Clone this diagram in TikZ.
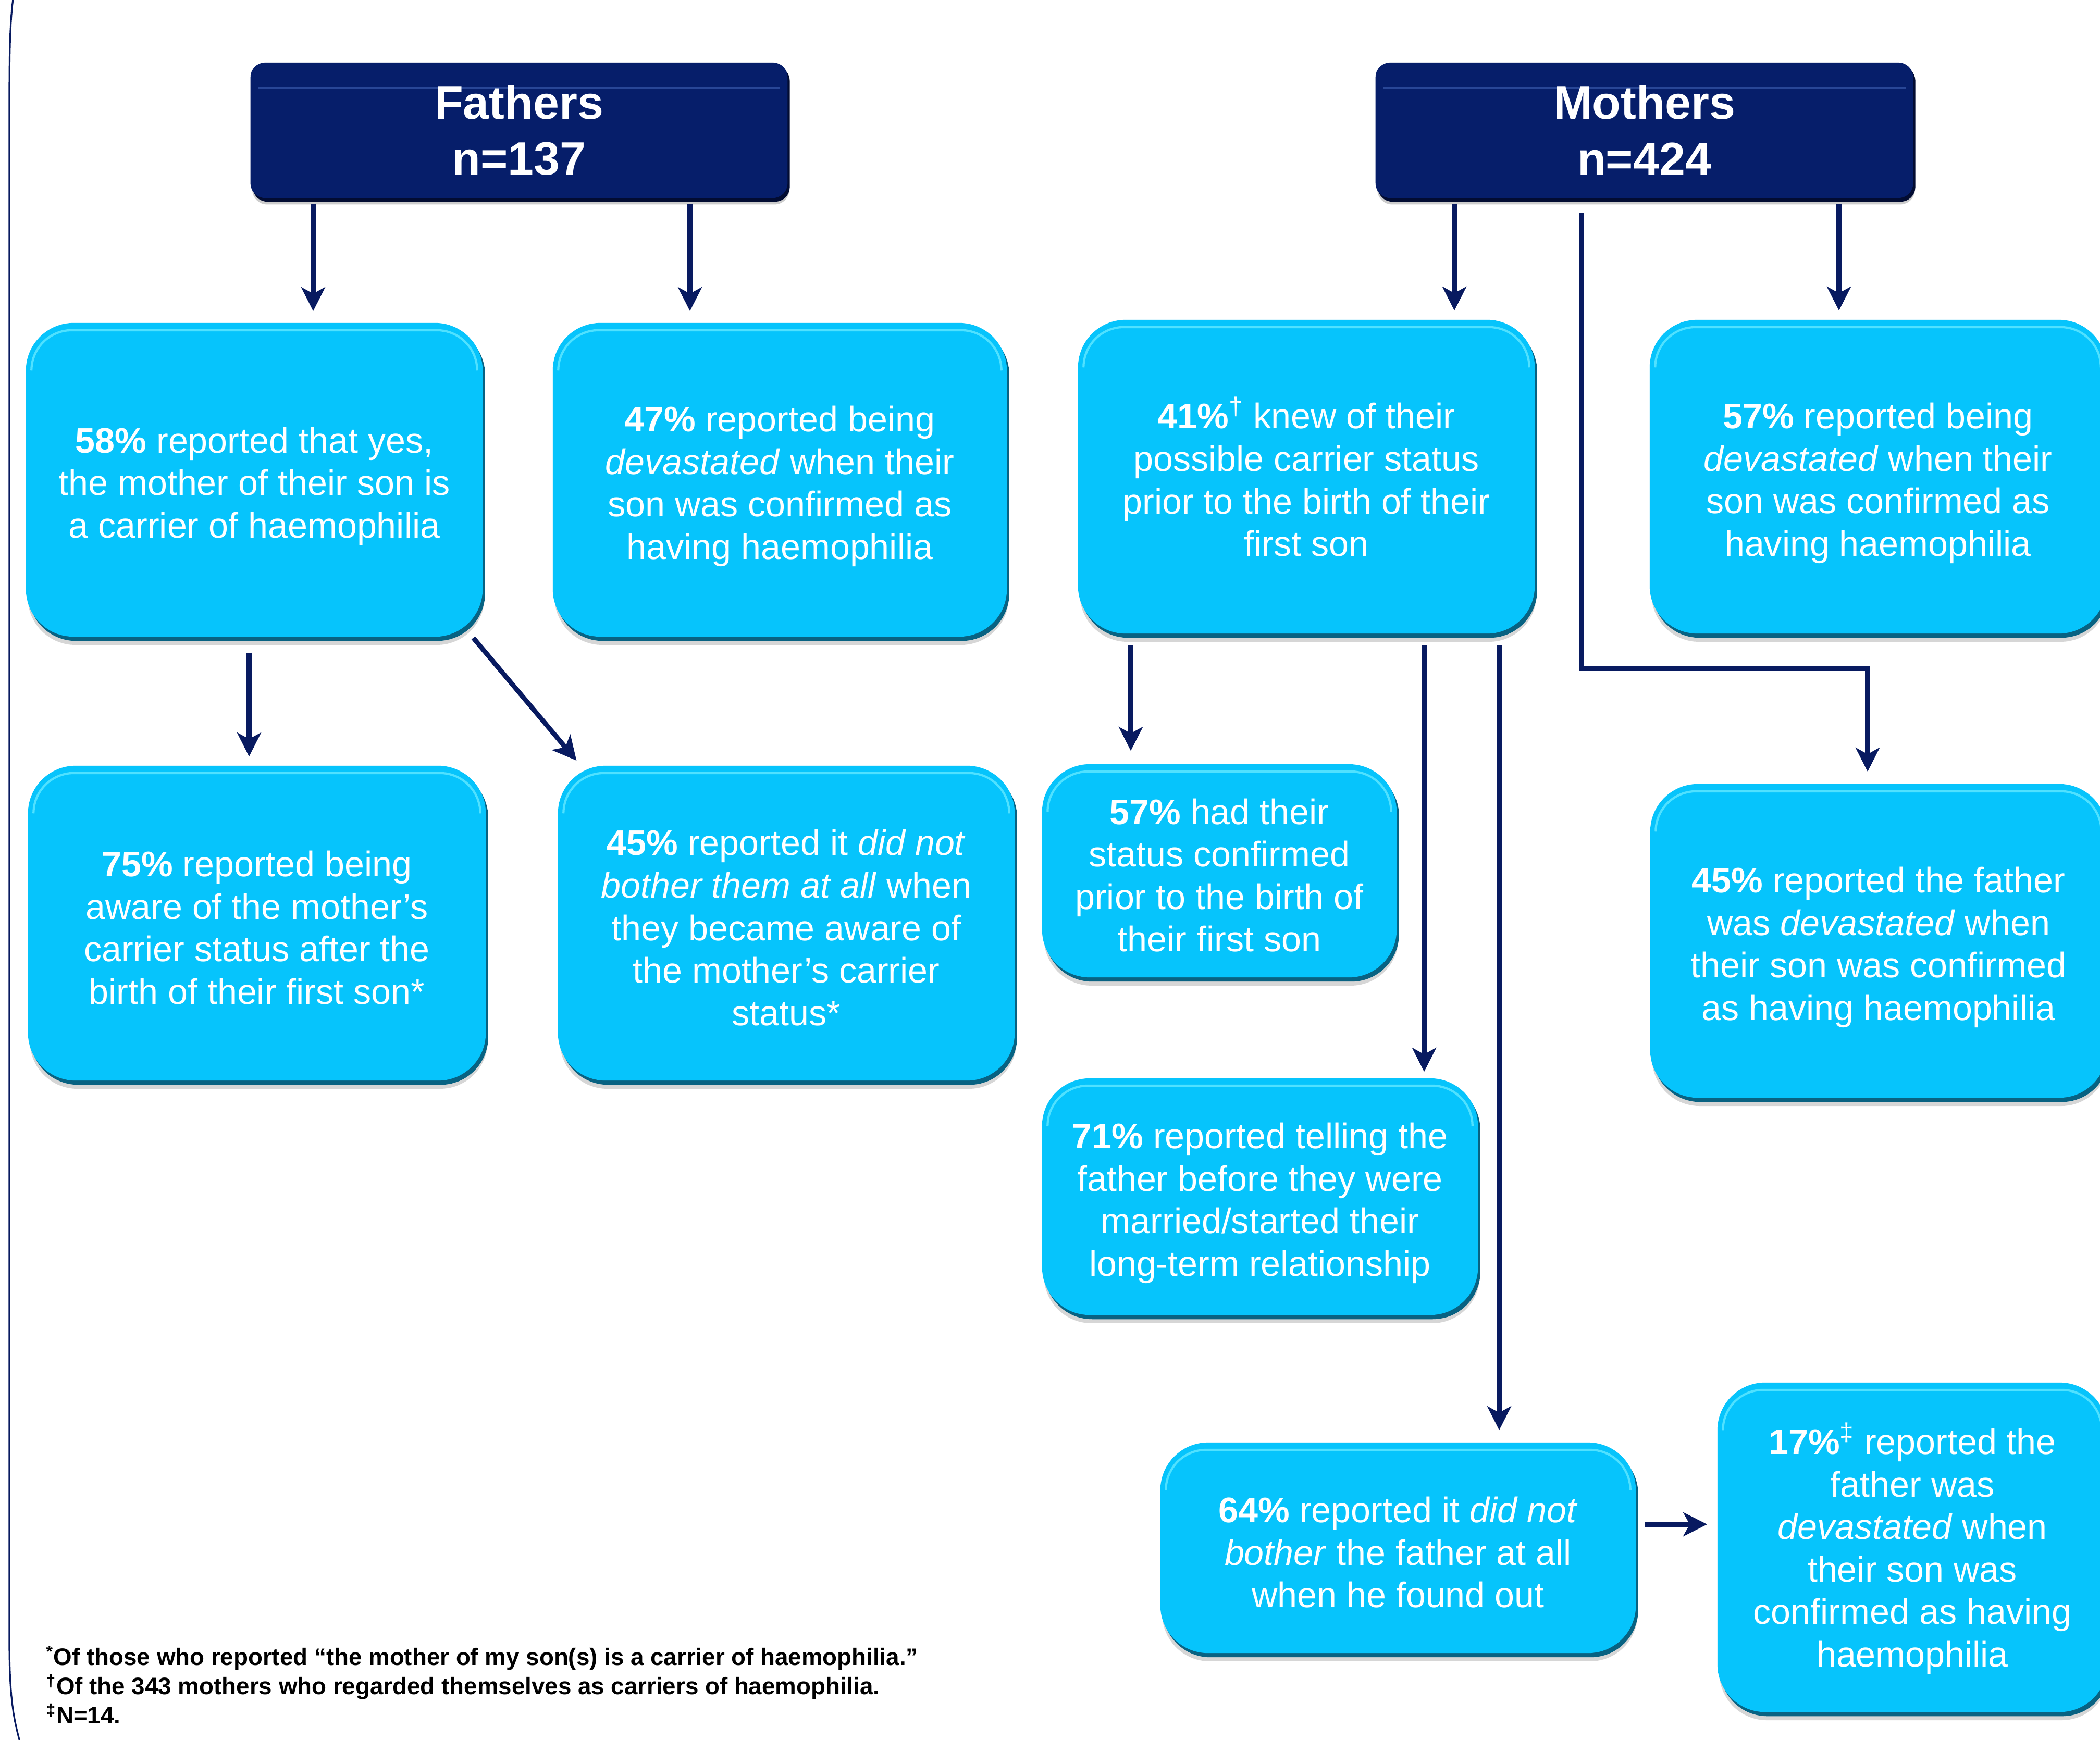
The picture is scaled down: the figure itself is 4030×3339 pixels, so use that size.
\documentclass[tikz,border=0pt]{standalone}
\usepackage{fontspec}
\setmainfont{Liberation Sans}
\usetikzlibrary{arrows.meta}
\definecolor{cyanbox}{RGB}{6,196,252}
\definecolor{edgeteal}{RGB}{8,98,130}
\definecolor{hlcyan}{RGB}{80,225,255}
\definecolor{navyhead}{RGB}{6,30,106}
\definecolor{navydeep}{RGB}{2,12,50}
\definecolor{hlnavy}{RGB}{40,70,150}
\definecolor{arrnavy}{RGB}{8,26,96}
\newcommand\boxfont{\fontsize{19.4}{23.2}\selectfont}
\newcommand\headfont{\bfseries\fontsize{25.5}{30.7}\selectfont}
\newcommand\notefont{\bfseries\fontsize{13}{15.9}\selectfont}
\newcommand\toplift[1]{\rule{0pt}{#1}}
\tikzset{
  cbox/.style={rounded corners=26pt, fill=cyanbox, text=white, align=center,
    inner sep=0pt, font=\boxfont,
    preaction={fill=black, fill opacity=0.16, transform canvas={xshift=1pt,yshift=-4.5pt}},
    preaction={fill=edgeteal, transform canvas={xshift=1.3pt,yshift=-2.3pt}},
    path picture={\draw[hlcyan, line width=1.2pt, rounded corners=22pt]
      ([xshift=3pt,yshift=-26pt]path picture bounding box.north west) --
      ([xshift=3pt,yshift=-4pt]path picture bounding box.north west) --
      ([xshift=-3pt,yshift=-4pt]path picture bounding box.north east) --
      ([xshift=-3pt,yshift=-26pt]path picture bounding box.north east);}},
  hbox/.style={rounded corners=8pt, fill=navyhead, text=white, align=center,
    inner sep=0pt, font=\headfont,
    preaction={fill=black, fill opacity=0.2, transform canvas={xshift=1pt,yshift=-3.5pt}},
    preaction={fill=navydeep, transform canvas={xshift=1.2pt,yshift=-2pt}},
    path picture={\draw[hlnavy, line width=1.2pt]
      ([xshift=4pt,yshift=-14pt]path picture bounding box.north west) --
      ([xshift=-4pt,yshift=-14pt]path picture bounding box.north east);}},
  arr/.style={draw=arrnavy, line width=2.6pt,
    -{Stealth[length=13pt,width=13pt,inset=3.5pt]}},
  notes/.style={anchor=west, align=left, font=\notefont, inner sep=0pt, text=black}
}
\begin{document}
\begin{tikzpicture}[x=0.01cm,y=-0.01cm]
\useasboundingbox (0,0) rectangle (4030,3339);
\fill[white] (0,0) rectangle (4030,3339);

% frame edge on the left
\draw[arrnavy, line width=0.9pt] (26,-10) .. controls (19,40) and (18,100) .. (18,200)
  -- (18,3150) .. controls (18,3260) and (26,3300) .. (40,3350);

% headers
\node[hbox, minimum width=10.30cm, minimum height=2.60cm] (fath) at (996,250) {Fathers\\n=137};
\node[hbox, minimum width=10.31cm, minimum height=2.60cm] (moth) at (3155.5,250) {Mothers\\n=424};

% boxes
\node[cbox, minimum width=8.76cm, minimum height=6.02cm] (A) at (488,921)
  {\toplift{21pt}\textbf{58\%} reported that yes,\\the mother of their son is\\a carrier of haemophilia};
\node[cbox, minimum width=8.71cm, minimum height=6.02cm] (B) at (1496.5,921)
  {\toplift{21pt}\textbf{47\%} reported being\\\textit{devastated} when their\\son was confirmed as\\having haemophilia};
\node[cbox, minimum width=8.76cm, minimum height=6.02cm] (C) at (2507,915)
  {\textbf{41\%}\textsuperscript{†} knew of their\\possible carrier status\\prior to the birth of their\\first son};
\node[cbox, minimum width=8.76cm, minimum height=6.02cm] (D) at (3604,915)
  {\toplift{21pt}\textbf{57\%} reported being\\\textit{devastated} when their\\son was confirmed as\\having haemophilia};
\node[cbox, minimum width=8.78cm, minimum height=6.04cm] (E) at (493,1772)
  {\toplift{19pt}\textbf{75\%} reported being\\aware of the mother’s\\carrier status after the\\birth of their first son*};
\node[cbox, minimum width=8.76cm, minimum height=6.04cm] (F) at (1509,1772)
  {\toplift{19pt}\textbf{45\%} reported it \textit{did not}\\\textit{bother them at all} when\\they became aware of\\the mother’s carrier\\status*};
\node[cbox, minimum width=6.80cm, minimum height=4.09cm] (G) at (2340,1671.5)
  {\toplift{19pt}\textbf{57\%} had their\\status confirmed\\prior to the birth of\\their first son};
\node[cbox, minimum width=8.76cm, minimum height=6.02cm] (H) at (3605,1806)
  {\toplift{21pt}\textbf{45\%} reported the father\\was \textit{devastated} when\\their son was confirmed\\as having haemophilia};
\node[cbox, minimum width=8.36cm, minimum height=4.54cm] (I) at (2418,2297)
  {\toplift{21pt}\textbf{71\%} reported telling the\\father before they were\\married/started their\\long-term relationship};
\node[cbox, minimum width=9.12cm, minimum height=4.04cm] (J) at (2683,2971)
  {\toplift{19pt}\textbf{64\%} reported it \textit{did not}\\\textit{bother} the father at all\\when he found out};
\node[cbox, minimum width=7.48cm, minimum height=6.32cm] (K) at (3670,2970)
  {\toplift{18.5pt}\textbf{17\%}\textsuperscript{‡} reported the\\father was\\\textit{devastated} when\\their son was\\confirmed as having\\haemophilia};

% helper coordinates for connector columns
\coordinate (xa) at (601,0);
\coordinate (xb) at (1324,0);
\coordinate (xc) at (2791,0);
\coordinate (xd) at (3529,0);
\coordinate (xe) at (478,0);
\coordinate (xg) at (2170,0);
\coordinate (xi) at (2733,0);
\coordinate (xj) at (2877,0);
\coordinate (mx) at (3035,0);
\coordinate (mj) at (3584,1283);
\coordinate (yk) at (0,2926);

% connectors
\draw[arr, shorten <=0.1cm, shorten >=0.22cm] (fath.south -| xa) -- (A.north -| xa);
\draw[arr, shorten <=0.1cm, shorten >=0.22cm] (fath.south -| xb) -- (B.north -| xb);
\draw[arr, shorten <=0.1cm, shorten >=0.17cm] (moth.south -| xc) -- (C.north -| xc);
\draw[arr, shorten <=0.1cm, shorten >=0.17cm] (moth.south -| xd) -- (D.north -| xd);
\draw[arr, shorten <=0.28cm, shorten >=0.23cm] (moth.south -| mx) -- (mx |- mj) -- (mj) -- (H.north -| mj);
\draw[arr, shorten <=0.3cm, shorten >=0.17cm] (A.south -| xe) -- (E.north -| xe);
\draw[arr, shorten <=0.02cm, shorten >=0.12cm] ([xshift=-0.2cm]A.south east) -- ([xshift=0.44cm]F.north west);
\draw[arr, shorten <=0.22cm, shorten >=0.25cm] (C.south -| xg) -- (G.north -| xg);
\draw[arr, shorten <=0.22cm, shorten >=0.12cm] (C.south -| xi) -- (I.north -| xi);
\draw[arr, shorten <=0.22cm, shorten >=0.23cm] (C.south -| xj) -- (J.north -| xj);
\draw[arr, shorten <=0.16cm, shorten >=0.19cm] (J.east |- yk) -- (K.west |- yk);

% footnotes
\node[notes] (fn) at (88,3234)
  {\textsuperscript{*}Of those who reported “the mother of my son(s) is a carrier of haemophilia.”\\
   \textsuperscript{†}Of the 343 mothers who regarded themselves as carriers of haemophilia.\\
   \textsuperscript{‡}N=14.};
\end{tikzpicture}
\end{document}
